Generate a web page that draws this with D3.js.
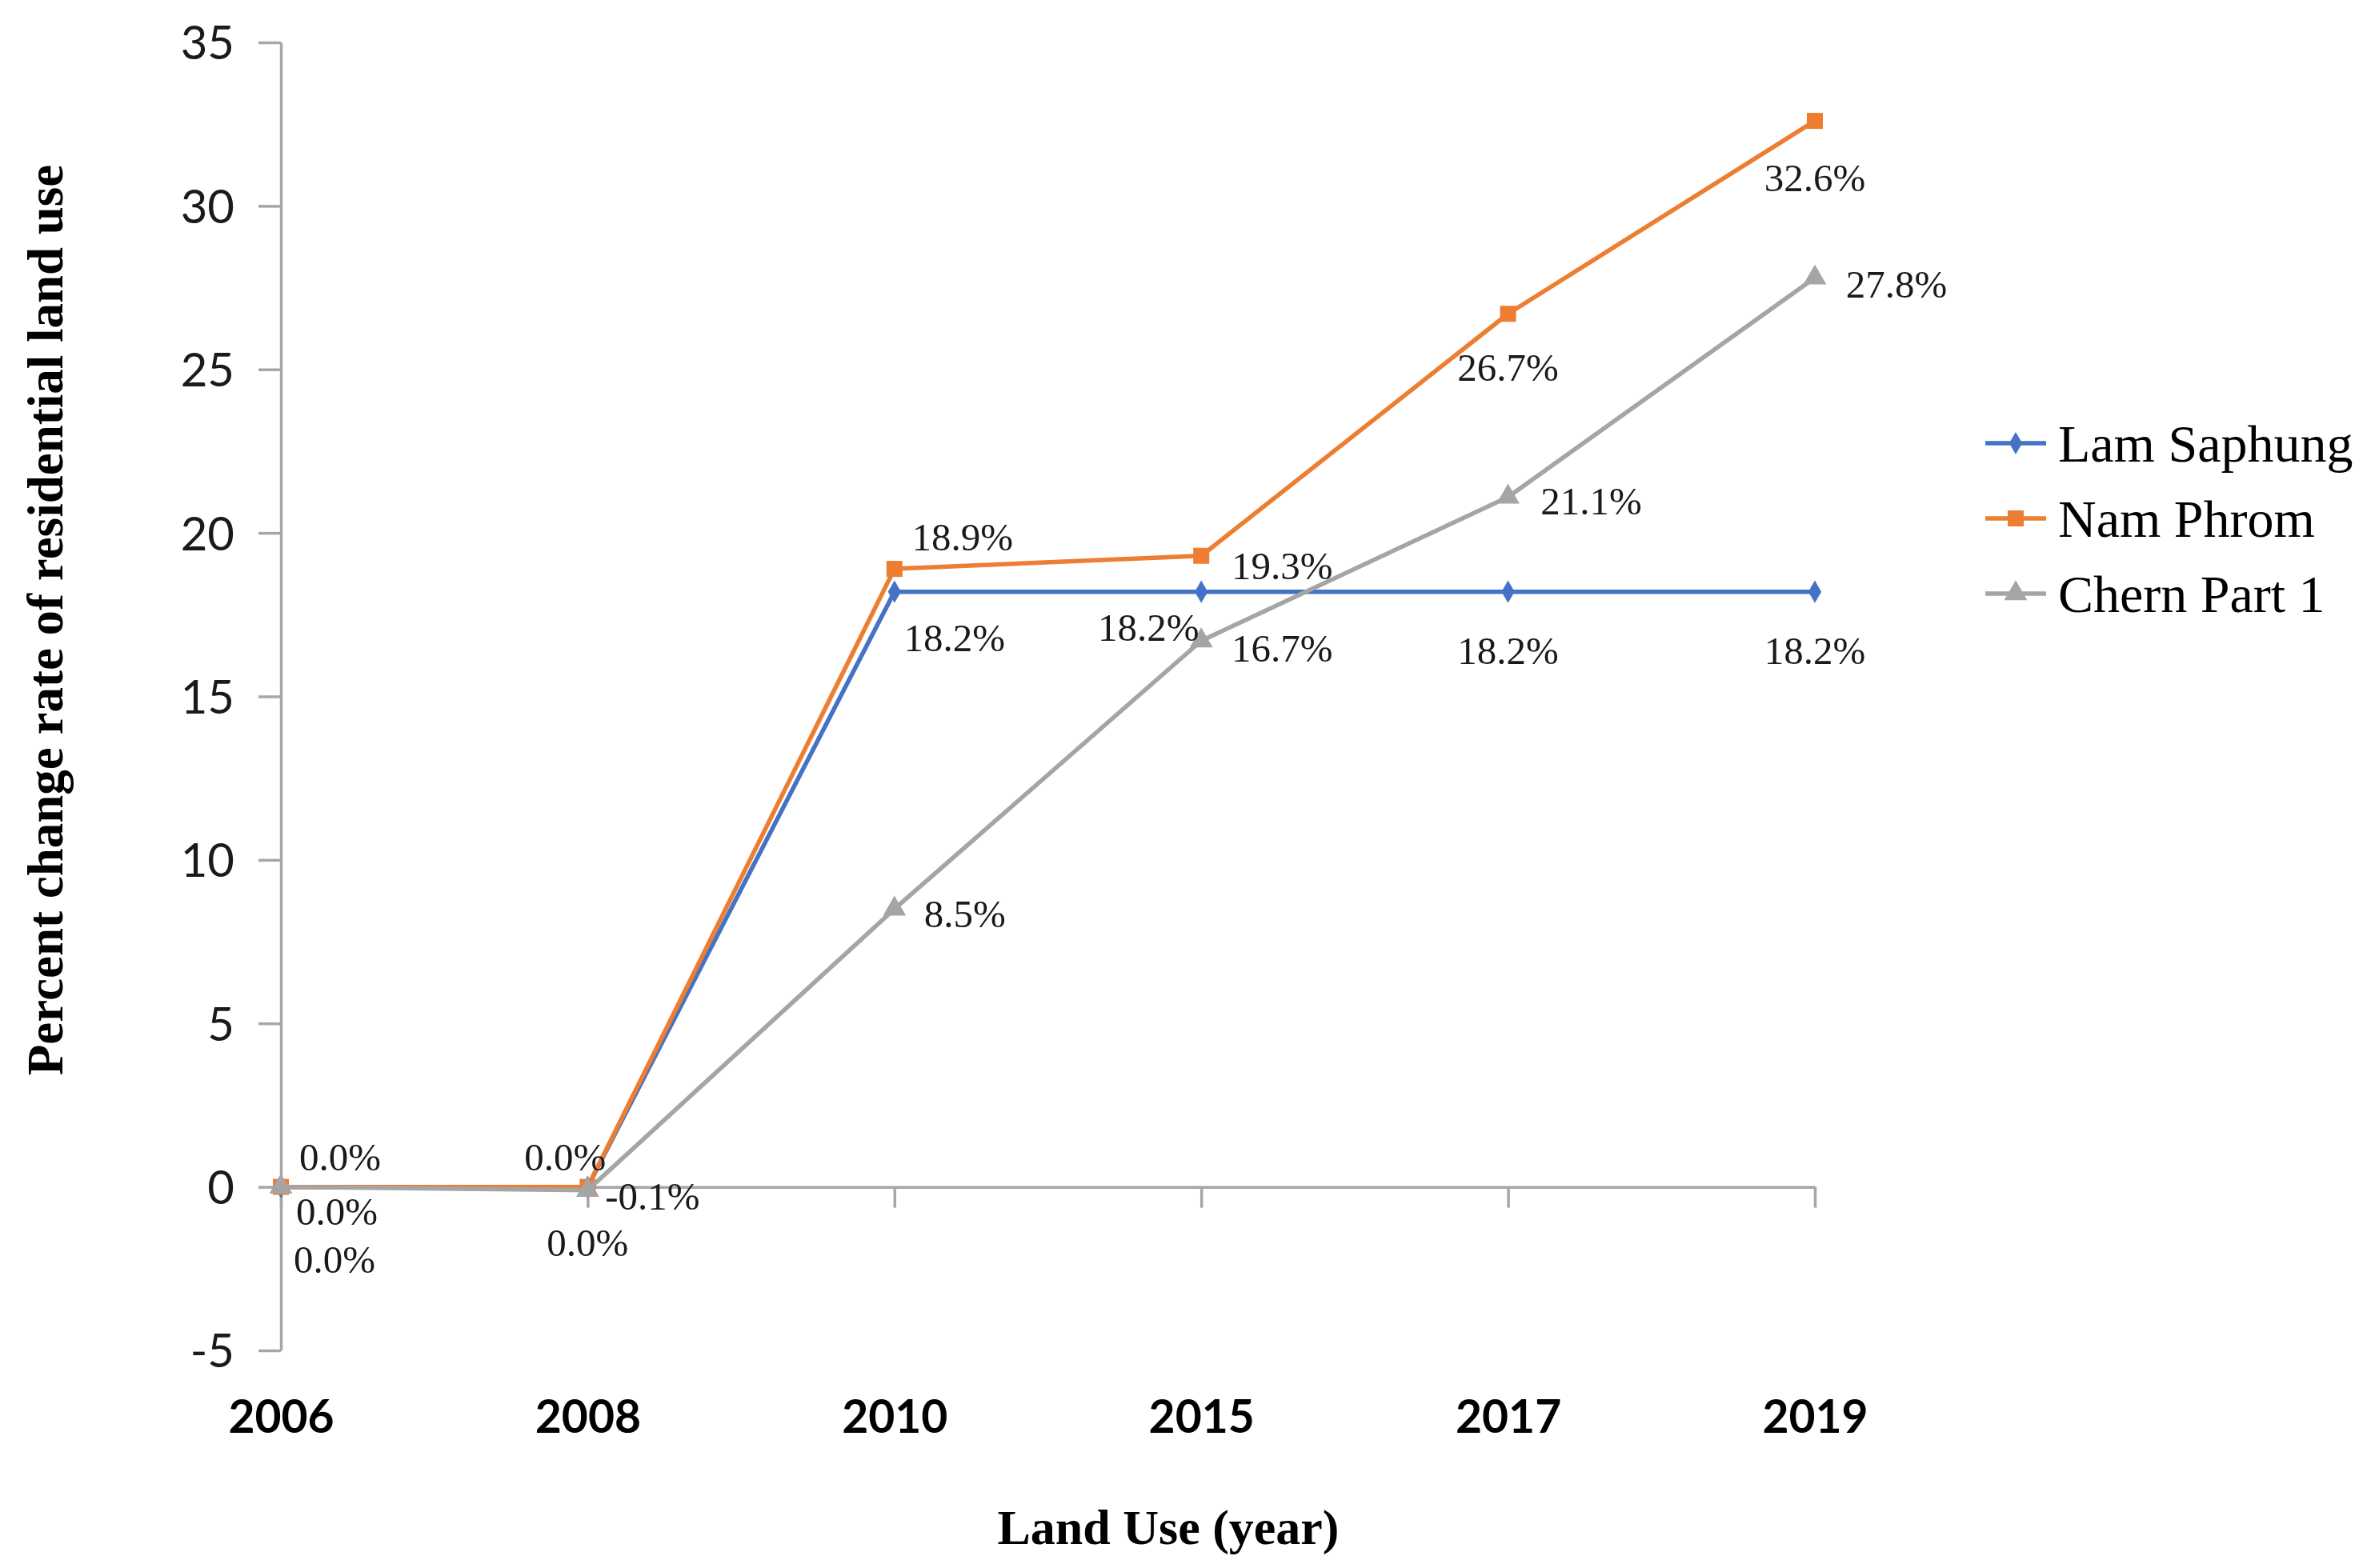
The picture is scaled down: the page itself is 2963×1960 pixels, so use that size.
<!DOCTYPE html>
<html>
<head>
<meta charset="utf-8">
<script src="https://cdn.jsdelivr.net/npm/d3@7"></script>
<style>
  body { margin: 0; background: #fff; }
</style>
</head>
<body>
<div id="chart-area"></div>
<script>
// data
var years = ["2006", "2008", "2010", "2015", "2017", "2019"];
var seriesNames = ["Lam Saphung", "Nam Phrom", "Chern Part 1"];
var lamSaphung = [0.0, 0.0, 18.2, 18.2, 18.2, 18.2];
var namPhrom = [0.0, 0.0, 18.9, 19.3, 26.7, 32.6];
var chernPart1 = [0.0, -0.1, 8.5, 16.7, 21.1, 27.8];
var yTicks = [-5, 0, 5, 10, 15, 20, 25, 30, 35];

// where each data label sits relative to its point (dx, dy)
var labelOffsets = [
  [[67, 91], [0, 70], [75, 58], [-66, 45], [0, 74], [0, 74]],
  [[74, -37], [-28, -37], [85, -40], [101, 13], [0, 67], [0, 71]],
  [[70, 31], [81, 8], [88, 6], [101, 9], [104, 5], [102, 8]]
];

var colors = ["#4472C4", "#ED7D31", "#A5A5A5"];
var symbols = [d3.symbolDiamond, d3.symbolSquare, d3.symbolTriangle];
var symbolSizes = [230, 400, 360];

var width = 2963;
var height = 1960;

var svg = d3.select("#chart-area").append("svg")
            .attr("width", width)
            .attr("height", height)
            .style("background", "#fff");

var x = d3.scalePoint()
          .domain(years)
          .range([351, 2268]);

var y = d3.scaleLinear()
          .domain([-5, 35])
          .range([1688, 53]);

var axisColor = "#a6a6a6";

// y axis
var yAxisGroup = svg.append("g")
                    .attr("transform", "translate(" + x(years[0]) + ",0)")
                    .call(d3.axisLeft(y).tickValues(yTicks).tickSize(28).tickSizeOuter(0).tickPadding(30)
                            .tickFormat(function(d){ return String(d); }));
yAxisGroup.selectAll("path, line").attr("stroke", axisColor).attr("stroke-width", 3.5);
yAxisGroup.selectAll("text")
          .attr("font-family", "Lato, 'Open Sans', sans-serif")
          .attr("font-size", "58px")
          .attr("fill", "#1a1a1a")
          .attr("dy", "0.36em");

// x axis line at zero
var xAxisGroup = svg.append("g")
                    .attr("transform", "translate(0," + y(0) + ")")
                    .call(d3.axisBottom(x).tickSize(26).tickSizeOuter(0).tickFormat(""));
xAxisGroup.selectAll("path, line").attr("stroke", axisColor).attr("stroke-width", 3.5);

// x tick labels at the bottom
var xLabels = svg.append("g")
                 .attr("transform", "translate(0," + y(-5) + ")")
                 .call(d3.axisBottom(x).tickSize(0).tickPadding(63));
xLabels.select(".domain").remove();
xLabels.selectAll("text")
       .attr("font-family", "Lato, 'Open Sans', sans-serif")
       .attr("font-weight", "bold")
       .attr("font-size", "57px")
       .attr("fill", "#000");

// axis titles
svg.append("text")
   .attr("transform", "translate(57,775) rotate(-90)")
   .attr("text-anchor", "middle")
   .attr("dominant-baseline", "central")
   .attr("font-family", "'Liberation Serif', 'DejaVu Serif', serif")
   .attr("font-weight", "bold")
   .attr("font-size", "63px")
   .attr("fill", "#000")
   .text("Percent change rate of residential land use");

svg.append("text")
   .attr("x", 1460)
   .attr("y", 1909)
   .attr("text-anchor", "middle")
   .attr("dominant-baseline", "central")
   .attr("font-family", "'Liberation Serif', 'DejaVu Serif', serif")
   .attr("font-weight", "bold")
   .attr("font-size", "62px")
   .attr("fill", "#000")
   .text("Land Use (year)");

var allSeries = [lamSaphung, namPhrom, chernPart1];

var line = d3.line()
             .x(function(d, i){ return x(years[i]); })
             .y(function(d){ return y(d); });

allSeries.forEach(function(values, s){
  var g = svg.append("g").attr("class", "series");
  g.append("path")
   .attr("d", line(values))
   .attr("fill", "none")
   .attr("stroke", colors[s])
   .attr("stroke-width", 5.5)
   .attr("stroke-linejoin", "round");

  g.selectAll("path.marker")
   .data(values)
   .enter().append("path")
   .attr("class", "marker")
   .attr("d", d3.symbol().type(symbols[s]).size(symbolSizes[s]))
   .attr("transform", function(d, i){ return "translate(" + x(years[i]) + "," + y(d) + ")"; })
   .attr("fill", colors[s]);
});

// data labels drawn after all lines
allSeries.forEach(function(values, s){
  svg.append("g").selectAll("text")
     .data(values)
     .enter().append("text")
     .attr("x", function(d, i){ return x(years[i]) + labelOffsets[s][i][0]; })
     .attr("y", function(d, i){ return y(d) + labelOffsets[s][i][1]; })
     .attr("text-anchor", "middle")
     .attr("dominant-baseline", "central")
     .attr("font-family", "'Liberation Serif', 'DejaVu Serif', serif")
     .attr("font-size", "49px")
     .attr("fill", "#1a1a1a")
     .text(function(d){ return d.toFixed(1) + "%"; });
});

// legend
var legend = svg.append("g").attr("transform", "translate(2481,554)");
seriesNames.forEach(function(name, s){
  var row = legend.append("g").attr("transform", "translate(0," + (s * 94) + ")");
  row.append("line")
     .attr("x1", 0).attr("x2", 76)
     .attr("stroke", colors[s])
     .attr("stroke-width", 5.5);
  row.append("path")
     .attr("d", d3.symbol().type(symbols[s]).size(symbolSizes[s]))
     .attr("transform", "translate(38,0)")
     .attr("fill", colors[s]);
  row.append("text")
     .attr("x", 91)
     .attr("dominant-baseline", "central")
     .attr("font-family", "'Liberation Serif', 'DejaVu Serif', serif")
     .attr("font-size", "66px")
     .attr("fill", "#000")
     .text(name);
});
</script>
</body>
</html>
